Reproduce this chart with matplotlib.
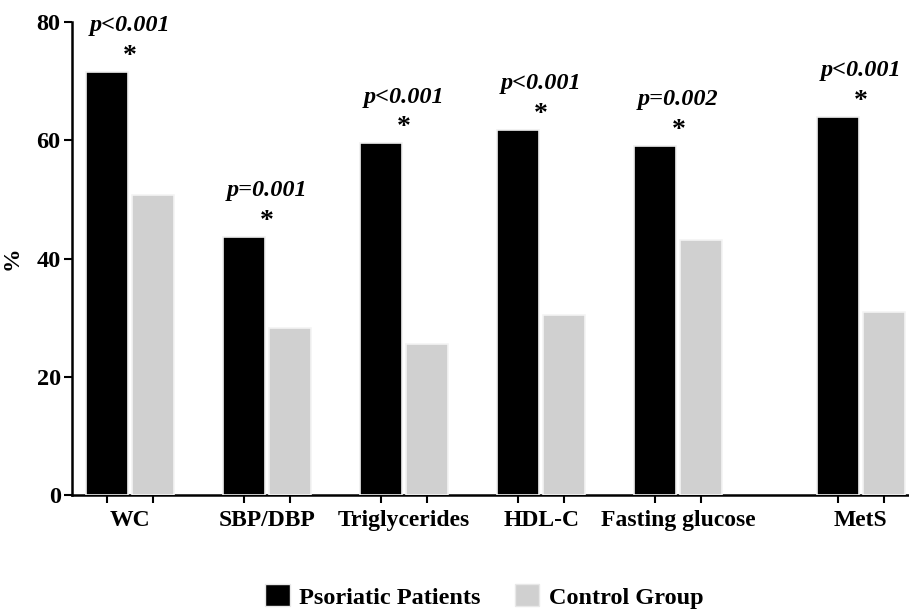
import matplotlib
matplotlib.use("Agg")
import matplotlib.pyplot as plt
import numpy as np
from matplotlib.patches import Patch

categories = ["WC", "SBP/DBP", "Triglycerides", "HDL-C", "Fasting glucose", "MetS"]
psoriatic = [71.6, 43.7, 59.5, 61.8, 59.1, 64.0]
control = [50.8, 28.2, 25.5, 30.5, 43.1, 31.0]
p_labels = ["p<0.001", "p=0.001", "p<0.001", "p<0.001", "p=0.002", "p<0.001"]
yticks = [0, 20, 40, 60, 80]

plt.rcParams["font.family"] = ["Liberation Serif", "DejaVu Serif"]
plt.rcParams["font.weight"] = "bold"

# group positions, MetS set apart from the rest
pos = np.array([0, 1, 2, 3, 4, 5.33])
width = 0.306
offset = 0.336

fig = plt.figure(figsize=(9.09, 6.15), dpi=100)
ax = fig.add_axes([0.079, 0.195, 0.921, 0.769])

black_x = pos
gray_x = pos + offset
ax.bar(black_x, psoriatic, width, color="black", edgecolor="#f0f0f0", linewidth=1.2, zorder=3)
ax.bar(gray_x, control, width, color="#d0d0d0", edgecolor="#f4f4f4", linewidth=1.2, zorder=3)

centers = pos + offset / 2
for c, h, p in zip(centers, psoriatic, p_labels):
    ax.text(c, h + 2.6, "*", ha="center", va="center", fontsize=20, fontweight="bold")
    ax.text(c, h + 7.8, p, ha="center", va="center", fontsize=17.5,
            fontweight="bold", style="italic")

ax.set_ylim(0, 80)
ax.set_xlim(-0.255, 5.85)
ax.set_yticks(yticks)
ax.set_ylabel("%", fontsize=17, fontweight="bold", labelpad=10)

ax.set_xticks(np.concatenate([black_x, gray_x]))
ax.set_xticklabels([])
ax.set_xticks(centers, minor=True)
ax.set_xticklabels(categories, minor=True, fontsize=17, fontweight="bold")
ax.tick_params(axis="x", which="minor", length=0, pad=11)
ax.tick_params(axis="x", which="major", length=6, width=1.5, direction="out")
ax.tick_params(axis="y", length=6, width=1.5, labelsize=17.5, pad=2)

for s in ["top", "right"]:
    ax.spines[s].set_visible(False)
for s in ["left", "bottom"]:
    ax.spines[s].set_linewidth(1.8)

handles = [Patch(facecolor="black", edgecolor="#e8e8e8", label="Psoriatic Patients"),
           Patch(facecolor="#d0d0d0", edgecolor="#e8e8e8", label="Control Group")]
fig.legend(handles=handles, loc="center", bbox_to_anchor=(0.533, 0.03), ncol=2,
           frameon=False, fontsize=17.5, handlelength=1.0, handleheight=1.0,
           columnspacing=1.4, handletextpad=0.4)

fig.savefig("out.png", dpi=100, facecolor="white")
